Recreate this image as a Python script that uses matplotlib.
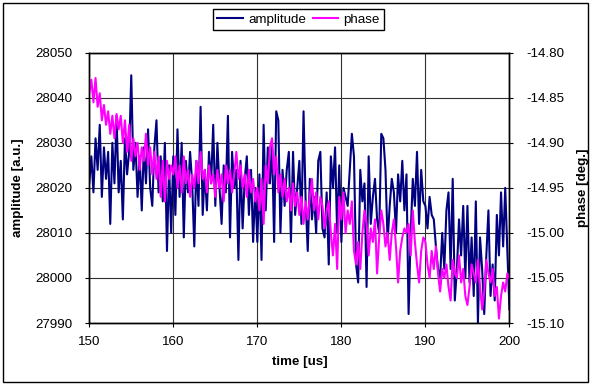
import numpy as np
import matplotlib.pyplot as plt
from matplotlib.patches import Rectangle

plt.rcParams['font.family'] = ['Liberation Sans', 'DejaVu Sans']
plt.rcParams['axes.unicode_minus'] = False

# time axis: 150 .. 200 us, 0.25 us step
time_us = np.arange(150.0, 200.001, 0.25)

# amplitude [a.u.]
amplitude = [
    # 150 - 160
    28021, 28027, 28019, 28031, 28024, 28034, 28018, 28029, 28022, 28028,
    28012, 28030, 28021, 28036, 28019, 28026, 28013, 28031, 28023, 28028,
    28045, 28024, 28030, 28018, 28027, 28015, 28029, 28021, 28033, 28020,
    28016, 28029, 28035, 28019, 28027, 28017, 28030, 28006, 28025, 28010,
    # 160 - 170
    28027, 28014, 28033, 28018, 28030, 28009, 28026, 28019, 28028, 28021,
    28007, 28026, 28016, 28038, 28014, 28024, 28015, 28028, 28021, 28034,
    28016, 28030, 28020, 28012, 28025, 28019, 28036, 28009, 28028, 28020,
    28024, 28004, 28026, 28011, 28022, 28027, 28014, 28024, 28008, 28020,
    # 170 - 180
    28008, 28023, 28004, 28034, 28015, 28029, 28021, 28030, 28008, 28037,
    28035, 28010, 28024, 28016, 28024, 28028, 28008, 28028, 28014, 28020,
    28026, 28012, 28037, 28017, 28006, 28022, 28013, 28018, 28010, 28026,
    28028, 28011, 28009, 28019, 28003, 28027, 28020, 28029, 28010, 28025,
    # 180 - 190
    28008, 28020, 28018, 28016, 28024, 28032, 28027, 28003, 27999, 28024,
    28017, 28021, 27998, 28027, 28012, 28018, 28022, 28013, 28010, 28032,
    28031, 28024, 28008, 28016, 28022, 28019, 28010, 28023, 28017, 28026,
    28015, 28023, 27992, 28010, 28022, 28016, 28028, 28012, 28024, 28017,
    # 190 - 200
    28016, 28011, 28018, 28014, 28013, 28007, 28002, 28000, 28010, 28002,
    28015, 28019, 28002, 28022, 27995, 28002, 28013, 28005, 28016, 28000,
    28016, 27999, 28009, 27996, 28017, 27990, 28009, 28002, 27992, 28005,
    28015, 27996, 28003, 27995, 28014, 28005, 28019, 28007, 28020, 28006,
    27993,
]

# phase [deg.]
phase = [
    # 150 - 160
    -14.845, -14.830, -14.855, -14.828, -14.860, -14.845, -14.875, -14.858, -14.880, -14.865,
    -14.890, -14.870, -14.895, -14.868, -14.885, -14.870, -14.900, -14.875, -14.910, -14.880,
    -14.920, -14.895, -14.915, -14.900, -14.930, -14.905, -14.920, -14.890, -14.925, -14.905,
    -14.935, -14.910, -14.940, -14.915, -14.960, -14.920, -14.965, -14.920, -14.940, -14.925,
    # 160 - 170
    -14.935, -14.915, -14.950, -14.925, -14.955, -14.915, -14.945, -14.930, -14.960, -14.935,
    -14.950, -14.920, -14.945, -14.910, -14.940, -14.930, -14.955, -14.925, -14.945, -14.935,
    -14.960, -14.930, -14.950, -14.935, -14.965, -14.925, -14.945, -14.930, -14.955, -14.935,
    -14.910, -14.940, -14.925, -14.950, -14.935, -14.960, -14.930, -14.955, -14.940, -14.965,
    # 170 - 180
    -14.950, -14.975, -14.940, -14.990, -14.925, -14.945, -14.905, -14.895, -14.935, -14.915,
    -14.955, -14.935, -14.960, -14.940, -14.965, -14.950, -14.975, -14.945, -14.970, -14.955,
    -14.980, -14.960, -14.990, -14.965, -14.985, -14.960, -14.940, -14.975, -14.955, -14.985,
    -14.960, -14.970, -14.995, -14.975, -14.965, -15.000, -15.025, -14.990, -15.040, -14.960,
    # 180 - 190
    -14.985, -14.955, -15.000, -14.975, -14.990, -14.965, -15.020, -15.035, -15.010, -15.040,
    -15.000, -14.975, -14.990, -15.025, -14.995, -15.010, -14.985, -15.045, -15.005, -14.975,
    -14.990, -15.015, -15.000, -15.030, -15.000, -14.985, -15.015, -15.055, -15.020, -15.005,
    -14.995, -15.000, -14.990, -15.025, -14.975, -15.010, -15.035, -15.055, -15.020, -15.005,
    # 190 - 200
    -15.010, -15.035, -15.050, -15.020, -15.040, -15.015, -15.045, -15.065, -15.040, -15.050,
    -15.035, -15.060, -15.075, -15.030, -15.045, -15.050, -15.025, -15.055, -15.040, -15.070,
    -15.080, -15.060, -15.035, -15.045, -15.055, -15.030, -15.060, -15.085, -15.065, -15.030,
    -15.045, -15.055, -15.040, -15.070, -15.060, -15.095, -15.070, -15.055, -15.065, -15.045,
    -15.050,
]

amp_ticks = [27990, 28000, 28010, 28020, 28030, 28040, 28050]
phase_ticks = [-15.10, -15.05, -15.00, -14.95, -14.90, -14.85, -14.80]
time_ticks = [150, 160, 170, 180, 190, 200]

FS = 9.6

fig = plt.figure(figsize=(5.91, 3.85), dpi=100)
ax = fig.add_axes([0.151, 0.161, 0.711, 0.702])
ax2 = ax.twinx()

# 外框
fig.patches.append(Rectangle((3 / 591, 3 / 385), 585 / 591, 379 / 385,
                             transform=fig.transFigure, fill=False,
                             edgecolor='black', linewidth=1.0))

l1 = ax.plot(time_us, amplitude, color='#000080', linewidth=1.5, label='amplitude')
l2 = ax2.plot(time_us, phase, color='#FF00FF', linewidth=1.5, label='phase')

ax.set_xlim(150, 200)
ax.set_ylim(27990, 28050)
ax2.set_ylim(-15.10, -14.80)
ax.set_xticks(time_ticks)
ax.set_yticks(amp_ticks)
ax2.set_yticks(phase_ticks)
ax2.set_yticklabels([f'{v:.2f}' for v in phase_ticks])

ax.grid(True, color='#303030', linewidth=0.8)
ax.set_axisbelow(True)

for a in (ax, ax2):
    a.tick_params(labelsize=FS, length=3, width=0.8, pad=9)
    for s in a.spines.values():
        s.set_linewidth(1.0)
        s.set_color('black')
ax.tick_params(axis='x', pad=6)

ax.set_xlabel('time [us]', fontsize=FS, fontweight='bold', labelpad=6)
ax.set_ylabel('amplitude [a.u.]', fontsize=FS, fontweight='bold', labelpad=8)
ax2.set_ylabel('phase [deg.]', fontsize=FS, fontweight='bold', rotation=90)
ax2.yaxis.set_label_coords(577 / 591 - 0.151, 0.5, transform=None)
ax2.yaxis.label.set_transform(fig.transFigure)
ax2.yaxis.label.set_position((577 / 591, (0.161 + 0.863) / 2))

lines = l1 + l2
fig.legend(lines, [l.get_label() for l in lines], loc='center',
           bbox_to_anchor=(0.505, 0.949), ncol=2, fontsize=FS, frameon=True,
           fancybox=False, edgecolor='black', framealpha=1,
           handlelength=1.9, handletextpad=0.4, columnspacing=0.5,
           borderpad=0.3, borderaxespad=0)

fig.savefig('out.png', dpi=100)
